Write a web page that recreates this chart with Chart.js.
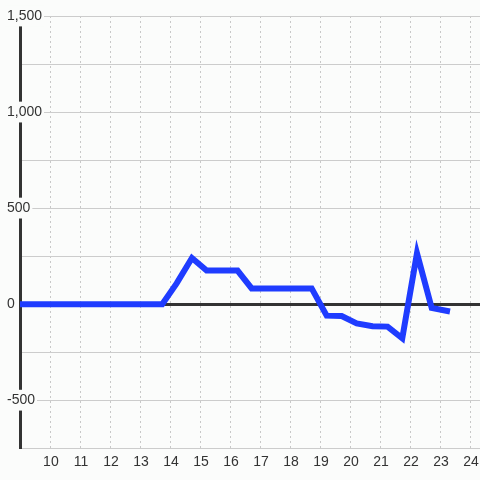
<!DOCTYPE html>
<html>
<head>
<meta charset="utf-8">
<script src="https://cdn.jsdelivr.net/npm/chart.js@4"></script>
<style>
  html, body { margin: 0; padding: 0; background: #fbfcfb; }
  #wrap { width: 480px; height: 480px; }
</style>
</head>
<body>
<div id="wrap"><canvas id="myChart" width="480" height="480"></canvas></div>
<script>
// readings (hour of day -> value)
const hours  = [8.69, 9.19, 9.69, 10.19, 10.69, 11.19, 11.69, 12.19, 12.69, 13.19, 13.71,
                14.19, 14.7, 15.19, 16.22, 16.69, 18.69, 19.19, 19.69, 20.19, 20.72,
                21.22, 21.71, 22.2, 22.69, 23.3];
const values = [0, 0, 0, 0, 0, 0, 0, 0, 0, 0, 0,
                108, 240, 175, 175, 82, 82, -60, -62, -100, -115,
                -117, -178, 265, -20, -38];

const xMin = 8.97, xMax = 24.3;
const yMin = -750, yMax = 1500;

const bg = '#fbfcfb';

function pluckPoints(xs, ys) {
    return xs.map(function(x, i) {
        return { x: x, y: ys[i] };
    });
}

const myChart = new Chart(
    document.getElementById('myChart'), {
        type: 'line',
        data: {
            datasets: [{
                data: pluckPoints(hours, values),
                borderColor: '#1f3cff',
                backgroundColor: '#1f3cff',
                borderWidth: 6,
                pointRadius: 0,
                tension: 0,
                fill: false
            }]
        },
        options: {
            responsive: false,
            animation: false,
            layout: { padding: { top: 16, right: 0, bottom: 3, left: 0 } },
            plugins: {
                legend: { display: false },
                tooltip: { enabled: false }
            },
            scales: {
                x: {
                    type: 'linear',
                    min: xMin,
                    max: xMax,
                    // keep the odd range and drop the 9 tick sitting on the axis
                    afterBuildTicks: function(scale) {
                        scale.min = xMin;
                        scale.max = xMax;
                        scale.ticks = scale.ticks.filter(t => t.value >= 10);
                    },
                    afterFit: function(scale) {
                        scale.paddingLeft = 0;
                        scale.paddingRight = 0;
                    },
                    grid: { color: '#c8c8c8', lineWidth: 1, drawTicks: false },
                    border: { color: '#cccccc', width: 1, dash: [2, 3] },
                    ticks: {
                        stepSize: 1,
                        includeBounds: false,
                        autoSkip: false,
                        maxRotation: 0,
                        padding: 6,
                        color: '#333',
                        font: { family: 'Liberation Sans', size: 14 },
                        callback: v => String(v)
                    }
                },
                y: {
                    min: yMin,
                    max: yMax,
                    afterFit: function(scale) { scale.width = 20; },
                    grid: {
                        drawTicks: false,
                        color: ctx => ctx.tick && ctx.tick.value === 0 ? '#333333' : '#cccccc',
                        lineWidth: ctx => ctx.tick && ctx.tick.value === 0 ? 3 : 1
                    },
                    border: { color: '#333333', width: 3 },
                    ticks: {
                        stepSize: 250,
                        mirror: true,
                        padding: -13,
                        color: '#333',
                        font: { family: 'Liberation Sans', size: 14 },
                        showLabelBackdrop: true,
                        backdropPadding: 2,
                        backdropColor: ctx => ctx.tick && ctx.tick.value % 500 === 0 ? bg : 'rgba(0,0,0,0)',
                        callback: v => v % 500 === 0 ? v.toLocaleString('en-US') : ''
                    }
                }
            }
        }
    }
);
</script>
</body>
</html>
